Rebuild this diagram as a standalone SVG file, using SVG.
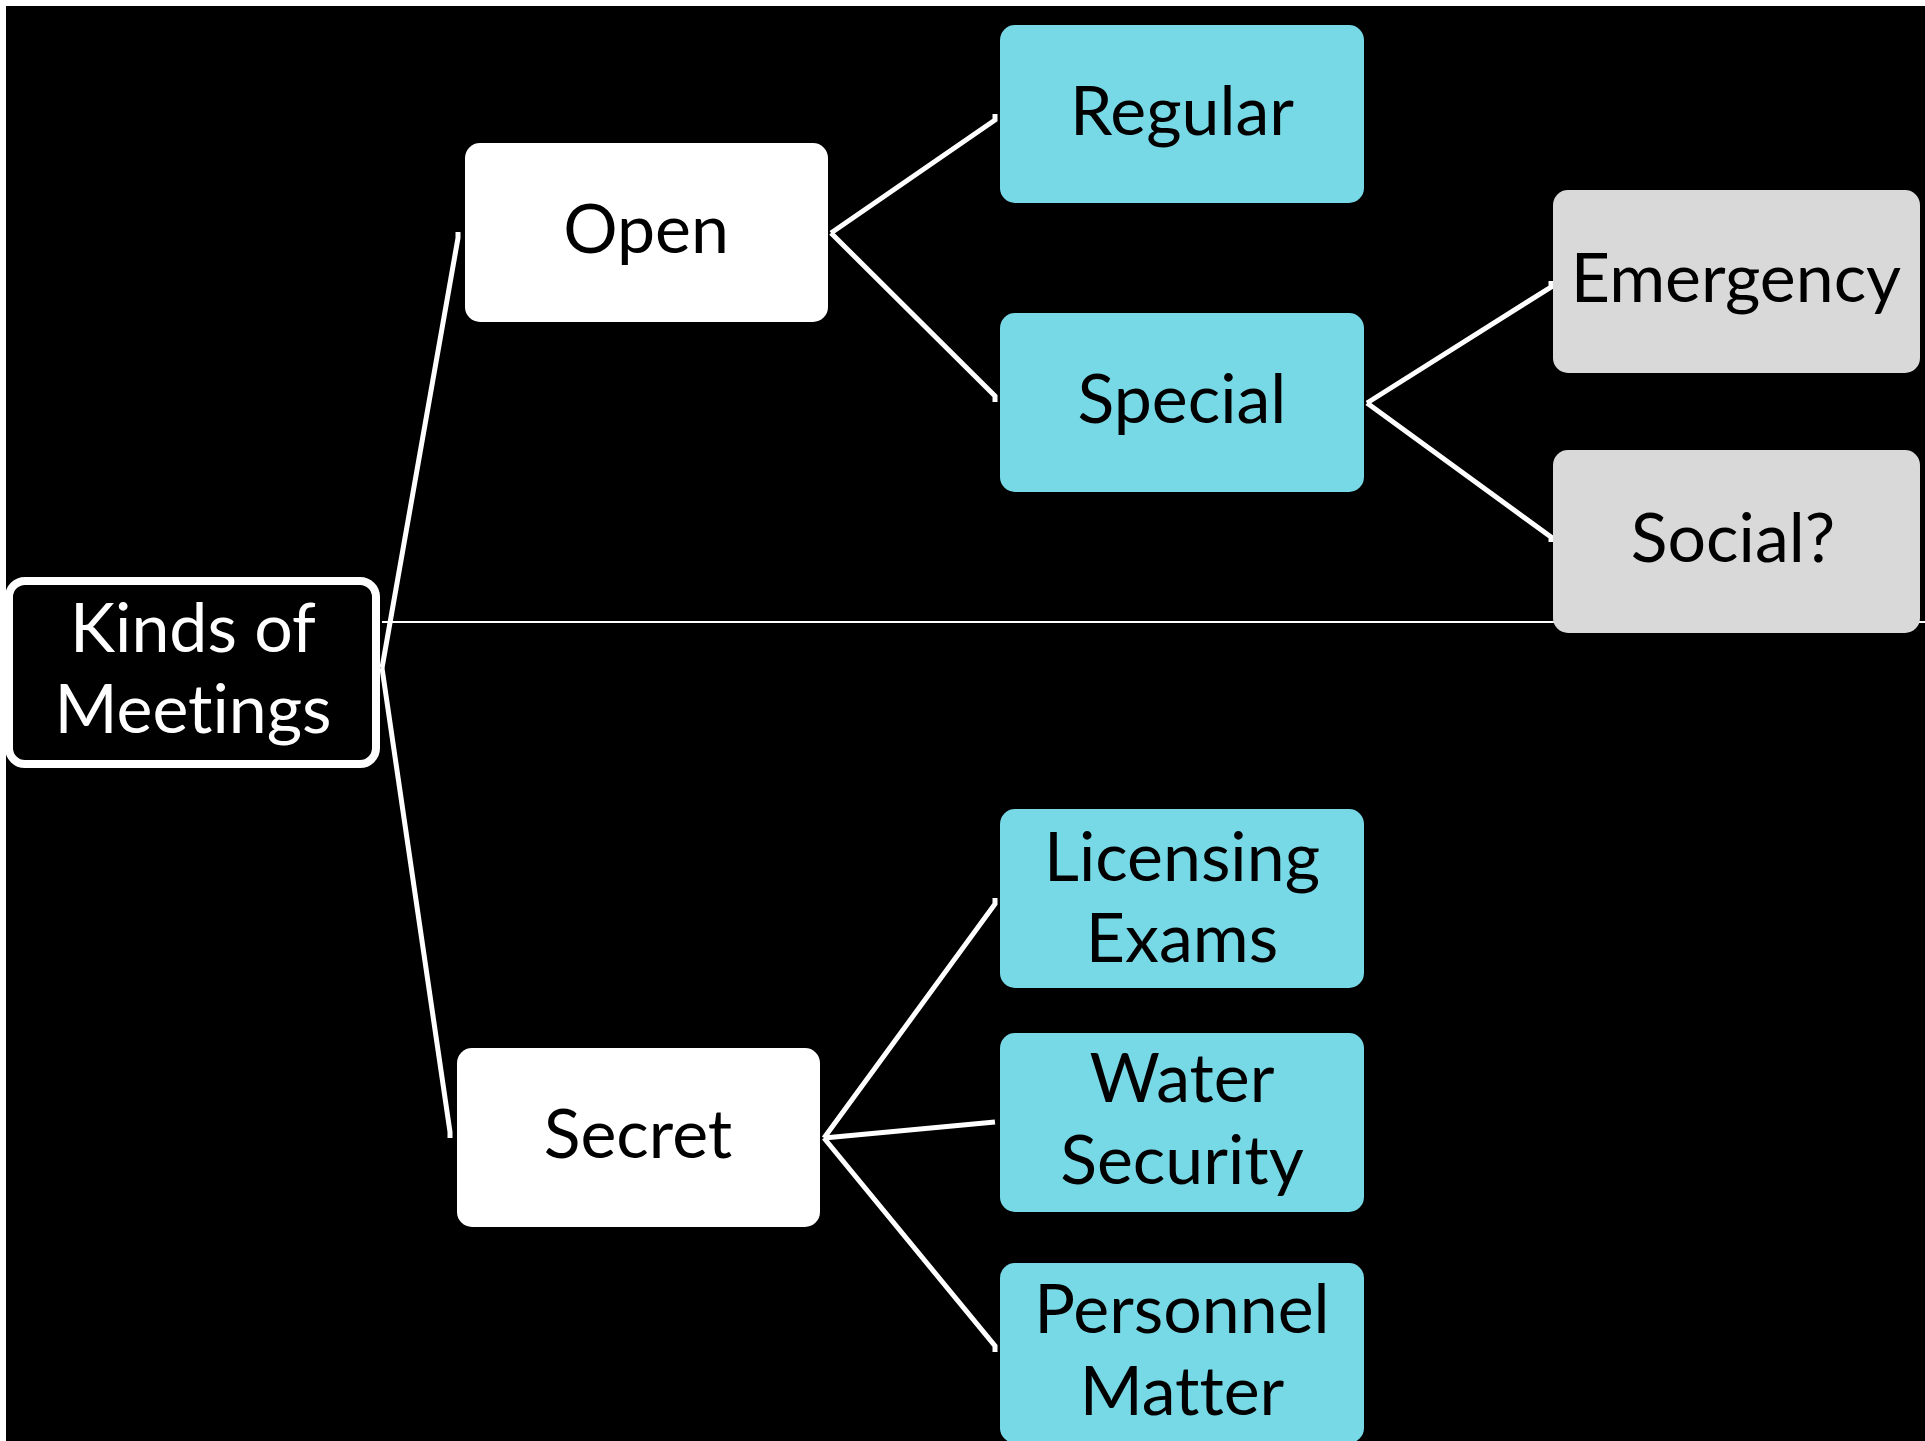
<svg xmlns="http://www.w3.org/2000/svg" width="1925" height="1441" viewBox="0 0 1925 1441">
<style>
.lbl{font-family:Lato,"Open Sans","Liberation Sans",sans-serif;font-size:68px;text-anchor:middle;fill:#000;font-variant-ligatures:none;font-feature-settings:"liga" 0,"clig" 0}
.wt{fill:#fff}
.box{rx:15px;ry:15px}
.white{fill:#fff}
.cyan{fill:#77D8E6}
.gray{fill:#D9D9D9}
.con{stroke:#fff;stroke-width:5;fill:none}
</style>
<rect x="0" y="0" width="1925" height="1441" fill="#fff"/>
<rect x="6" y="6" width="1919" height="1435" fill="#000"/>
<g id="connectors">
<line x1="382" y1="622" x2="1925" y2="622" stroke="#fff" stroke-width="2"/>
<polyline class="con" points="382,668 458,238 458,232"/>
<polyline class="con" points="382,668 450,1132 450,1138"/>
<polyline class="con" points="831,233 995,120 995,114"/>
<polyline class="con" points="831,233 995,396 995,402"/>
<polyline class="con" points="1367,403 1551,287 1551,281"/>
<polyline class="con" points="1367,403 1551,537 1551,542"/>
<polyline class="con" points="824,1138 995,904 995,898"/>
<polyline class="con" points="824,1138 995,1122"/>
<polyline class="con" points="824,1138 995,1346 995,1352"/>
</g>
<g id="kinds">
<rect x="9" y="581" width="367" height="183" rx="16" fill="#000" stroke="#fff" stroke-width="8"/>
<text class="lbl wt" x="193" y="652">Kinds of</text>
<text class="lbl wt" x="193" y="733">Meetings</text>
</g>
<g id="open">
<rect class="box white" x="465" y="143" width="363" height="179"/>
<text class="lbl" x="646" y="253">Open</text>
</g>
<g id="secret">
<rect class="box white" x="457" y="1048" width="363" height="179"/>
<text class="lbl" x="638" y="1158">Secret</text>
</g>
<g id="regular">
<rect class="box cyan" x="1000" y="25" width="364" height="178"/>
<text class="lbl" x="1182" y="135">Regular</text>
</g>
<g id="special">
<rect class="box cyan" x="1000" y="313" width="364" height="179"/>
<text class="lbl" x="1182" y="423">Special</text>
</g>
<g id="emergency">
<rect class="box gray" x="1553" y="190" width="367" height="183"/>
<text class="lbl" x="1736" y="302">Emergency</text>
</g>
<g id="social">
<rect class="box gray" x="1553" y="450" width="367" height="183"/>
<text class="lbl" x="1733" y="562">Social?</text>
</g>
<g id="licensing">
<rect class="box cyan" x="1000" y="809" width="364" height="179"/>
<text class="lbl" x="1182" y="881">Licensing</text>
<text class="lbl" x="1182" y="962">Exams</text>
</g>
<g id="water">
<rect class="box cyan" x="1000" y="1033" width="364" height="179"/>
<text class="lbl" x="1182" y="1102">Water</text>
<text class="lbl" x="1182" y="1184">Security</text>
</g>
<g id="personnel">
<rect class="box cyan" x="1000" y="1263" width="364" height="180"/>
<text class="lbl" x="1182" y="1333">Personnel</text>
<text class="lbl" x="1182" y="1415">Matter</text>
</g>
</svg>
